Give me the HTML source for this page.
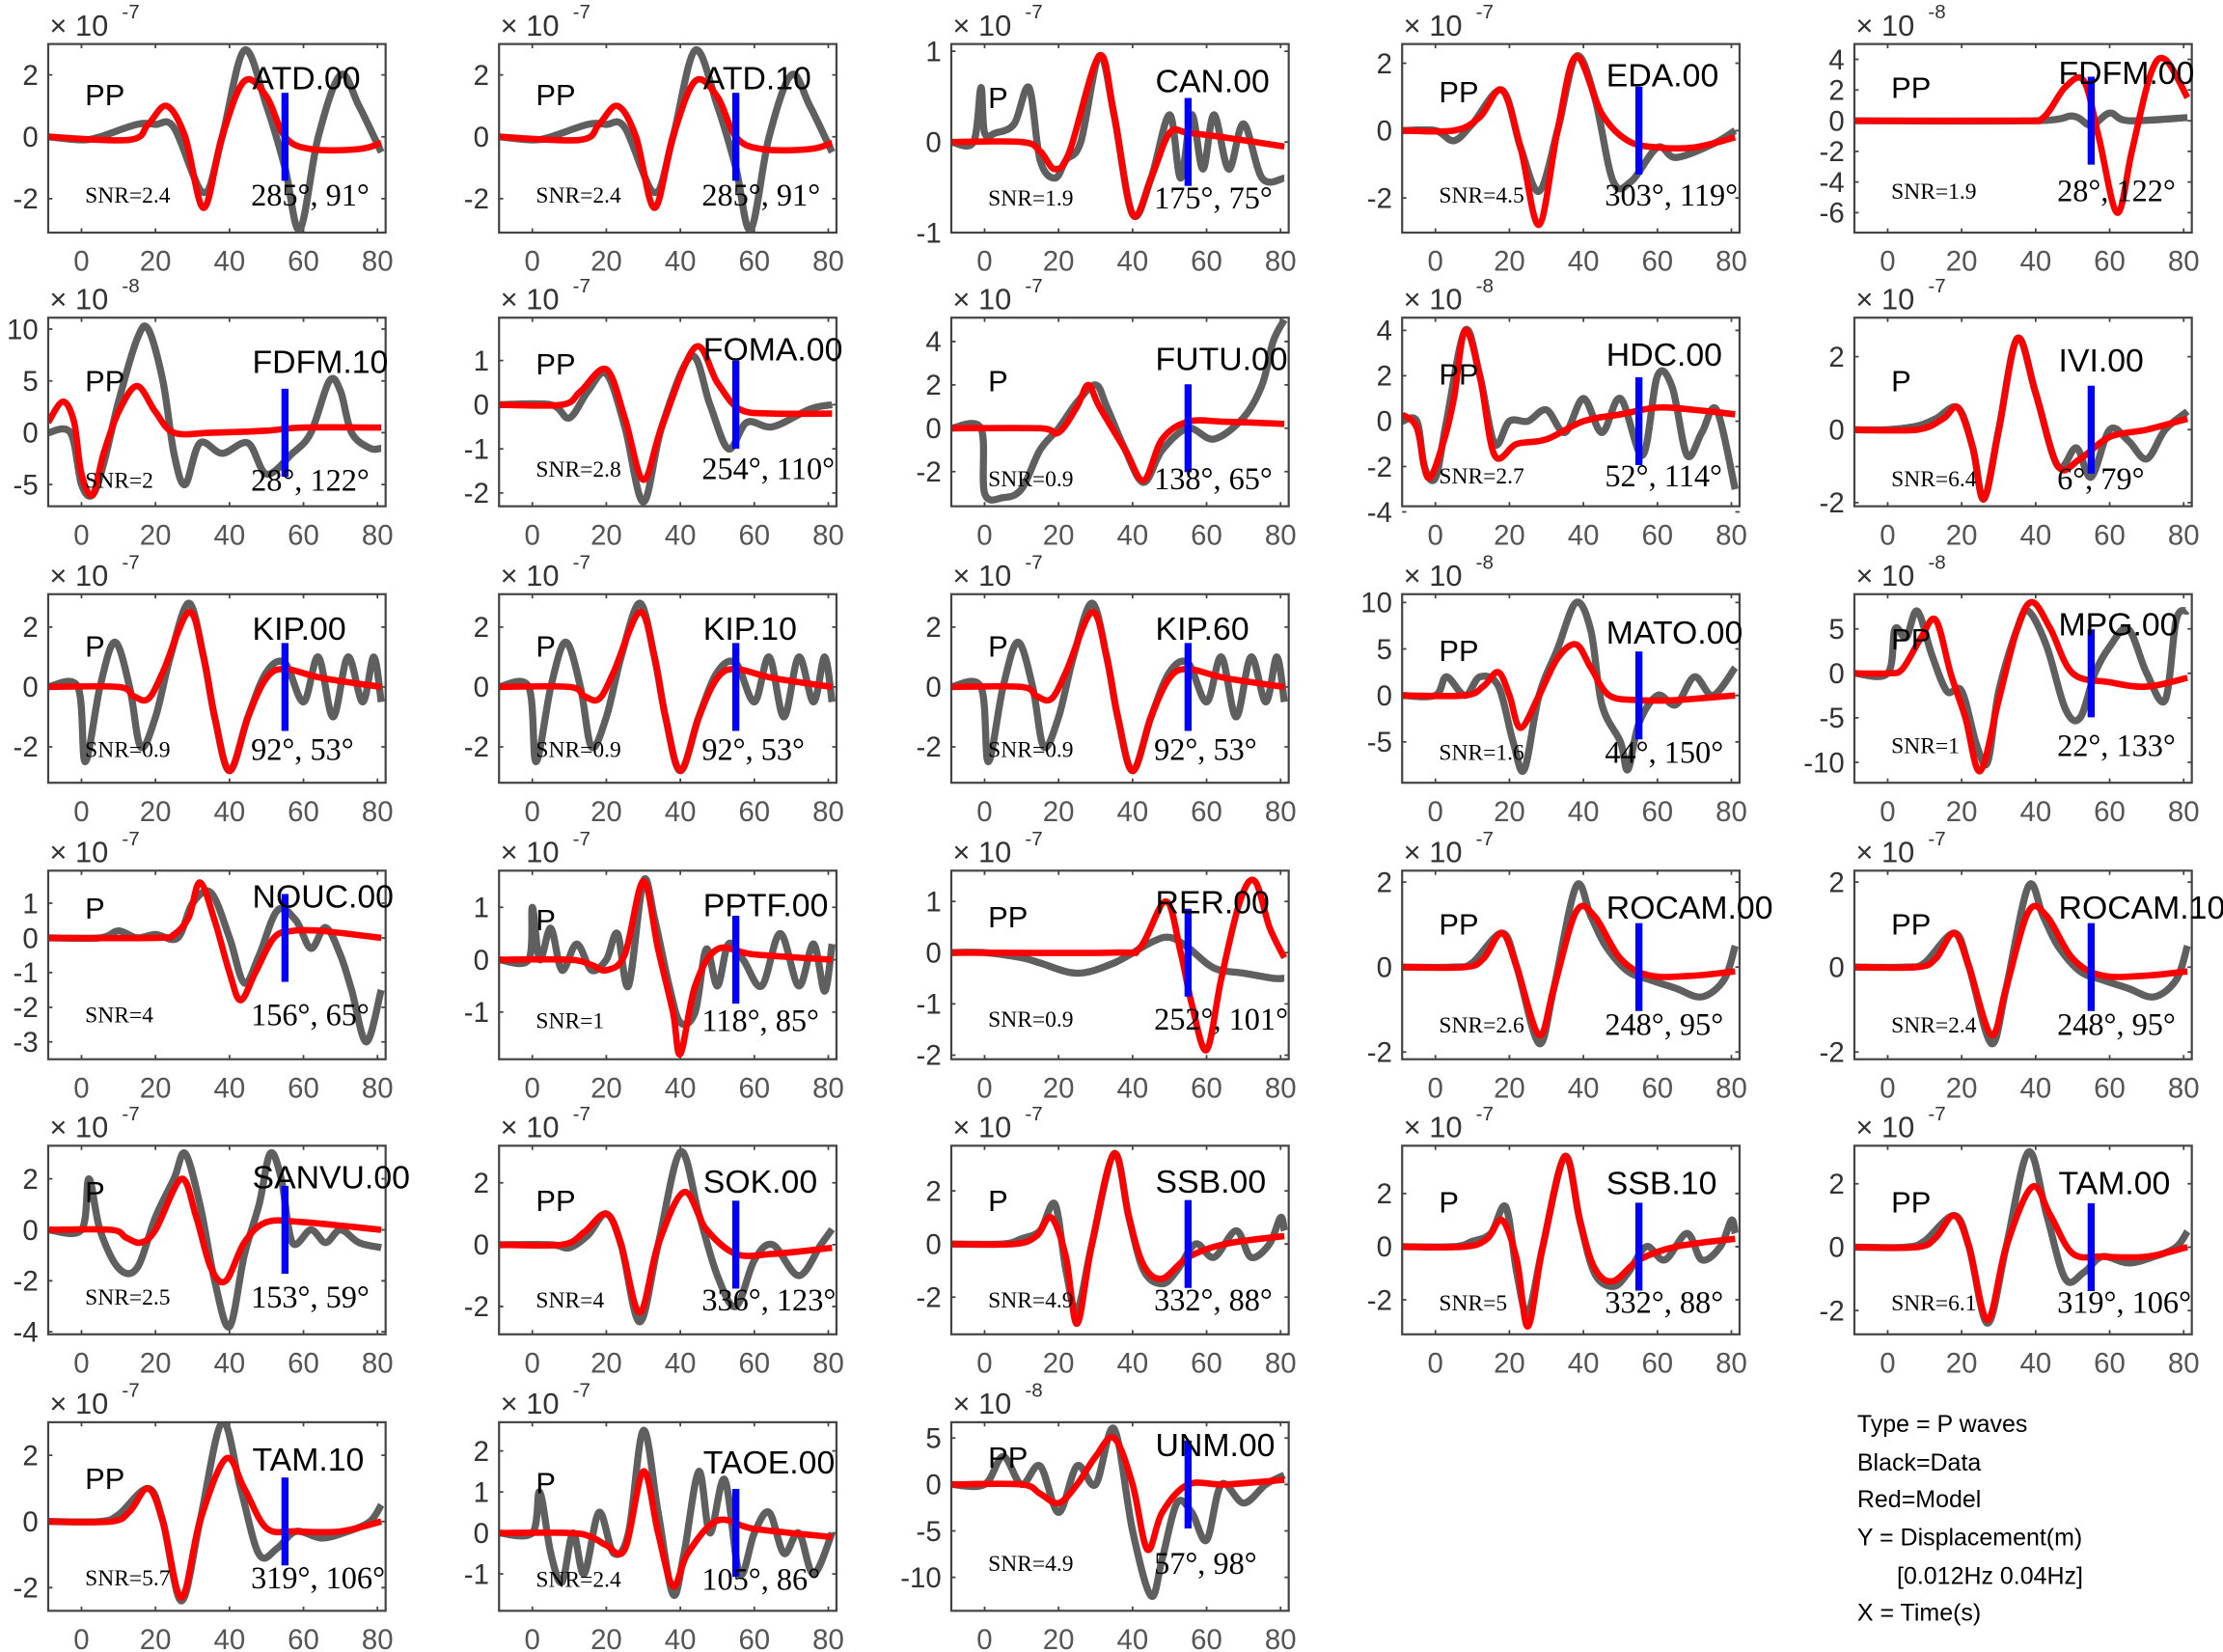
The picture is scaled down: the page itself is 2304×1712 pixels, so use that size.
<!DOCTYPE html>
<html><head><meta charset="utf-8">
<style>
html,body{margin:0;padding:0;background:#fff;}
svg{display:block;}
text{font-family:"Liberation Sans",sans-serif;}
.serif{font-family:"Liberation Serif",serif;}
</style></head>
<body>
<svg id="s" xmlns="http://www.w3.org/2000/svg" width="2304" height="1712" viewBox="0 0 1568 1165">
<rect width="1568" height="1165" fill="#fff"/>
<g font-size="17" fill="#000">
<text x="1310" y="1010">Type = P waves</text>
<text x="1310" y="1037">Black=Data</text>
<text x="1310" y="1063">Red=Model</text>
<text x="1310" y="1090">Y = Displacement(m)</text>
<text x="1338" y="1117">[0.012Hz 0.04Hz]</text>
<text x="1310" y="1143">X = Time(s)</text>
</g>
</svg>
<script>
var cols=[34,352,671,989,1308], rows=[31,224,419,614,808,1003], W=238, H=133;
var ATDg=[[-9,0],[0,-0.1],[5,0],[15,0.4],[20,0.4],[25,0.3],[33,-1.8],[38,0],[44,2.8],[50,1],[55,-1],[59,-3],[64,0],[70,2],[75,1],[81,-0.5]];
var ATDr=[[-9,0],[13,-0.1],[18,0.4],[23,1],[28,0],[33,-2.3],[38,0],[44,1.8],[50,1.3],[55,0],[62,-0.4],[75,-0.4],[81,-0.2]];
var KIPg=[[-9,0],[-1,0],[1,-2.5],[5,0],[9,1.5],[13,0],[16,-2],[20,-1],[24,1],[29,2.8],[33,1],[36,-1],[40,-2.8],[45,-1],[50,0.5],[55,0.8],[60,-0.5],[64,1],[68,-1],[72,1],[76,-0.5],[79,1],[81,-0.5]];
var KIPr=[[-9,0],[10,0],[14,-0.3],[18,-0.4],[22,0.5],[29,2.5],[33,1],[36,-1],[40,-2.8],[45,-1],[50,0.3],[55,0.6],[65,0.3],[81,0]];
var ROCg=[[-9,0],[5,0],[10,0.1],[18,0.8],[22,0],[28,-1.8],[32,-0.5],[38,1.9],[42,1.2],[46,0.5],[52,-0.1],[58,-0.3],[65,-0.5],[72,-0.7],[78,-0.3],[81,0.5]];
var ROCr=[[-9,0],[8,0],[13,0.2],[18,0.8],[22,0],[28,-1.6],[32,-0.5],[38,1.3],[43,1.2],[50,0.2],[58,-0.2],[70,-0.2],[81,-0.1]];
var SSBg=[[-9,0],[5,0],[10,0.2],[15,0.5],[19,1.5],[22,-1],[25,-2.5],[29,0],[35,3.4],[39,1],[43,-1],[48,-1.5],[52,-1],[57,0],[62,-0.5],[68,0.5],[72,-0.5],[77,0],[80,1],[81,0.5]];
var SSBr=[[-9,0],[8,0],[14,0.3],[18,1],[22,-0.5],[25,-3],[29,0],[35,3.4],[39,1],[43,-0.8],[48,-1.3],[55,-0.5],[65,0],[81,0.3]];
var TAMg=[[-9,0],[5,0],[10,0.2],[18,1],[22,0],[27,-2.4],[32,0],[38,3],[43,1],[48,-1],[53,-0.8],[58,-0.3],[65,-0.5],[72,-0.3],[78,0],[81,0.5]];
var TAMr=[[-9,0],[8,0],[13,0.3],[18,1],[22,0],[27,-2.3],[32,0],[39,1.9],[44,1],[50,-0.2],[58,-0.3],[70,-0.3],[81,0]];
var P=[
[0,0,[-3.1,3.0],[-2,0,2],-7,"PP",35,"ATD.00",24,"2.4","285°, 91°",106,ATDg,ATDr],
[1,0,[-3.1,3.0],[-2,0,2],-7,"PP",35,"ATD.10",24,"2.4","285°, 91°",106,ATDg,ATDr],
[2,0,[-1.0,1.08],[-1,0,1],-7,"P",37,"CAN.00",26,"1.9","175°, 75°",108,
 [[-9,0],[-3,0],[-1,0.6],[0,0.1],[3,0.1],[8,0.2],[12,0.6],[15,-0.2],[19,-0.4],[22,-0.2],[26,0],[31,0.95],[35,0.3],[40,-0.8],[45,-0.4],[50,0.3],[53,-0.4],[56,0.3],[59,-0.3],[62,0.3],[66,-0.3],[70,0.2],[75,-0.4],[81,-0.4]],
 [[-9,0],[10,0],[15,-0.1],[19,-0.3],[23,-0.1],[31,0.95],[35,0.3],[40,-0.8],[45,-0.4],[50,0.1],[55,0.1],[65,0.05],[81,-0.05]]],
[3,0,[-3.03,2.57],[-2,0,2],-7,"PP",33,"EDA.00",22,"4.5","303°, 119°",106,
 [[-9,0],[0,0],[5,-0.3],[10,0.2],[18,1.2],[23,-0.5],[28,-1.8],[33,0],[38,2.2],[43,1],[48,-1.5],[53,-1.5],[60,-0.5],[65,-0.8],[75,-0.4],[81,0]],
 [[-9,0],[5,0],[12,0.4],[18,1.2],[23,-0.5],[28,-2.8],[33,0],[38,2.2],[45,0.5],[52,-0.3],[60,-0.5],[70,-0.5],[81,-0.2]]],
[4,0,[-7.3,5.0],[-6,-4,-2,0,2,4],-8,"PP",30,"FDFM.00",20,"1.9","28°, 122°",103,
 [[-9,0],[40,0],[50,0.3],[55,-0.3],[60,0.5],[65,0],[81,0.2]],
 [[-9,0],[35,0],[42,0.2],[48,2.2],[53,2.6],[57,-1],[62,-6],[66,-2],[71,3],[75,4],[81,1.5]]],
[0,1,[-7.1,11.1],[-5,0,5,10],-8,"PP",44,"FDFM.10",31,"2","28°, 122°",114,
 [[-9,0],[-3,0],[0,-5],[3,-6],[6,-3],[10,3],[15,9],[18,10],[22,5],[25,-2],[28,-5],[32,-1],[38,-2],[45,-1],[50,-4],[57,-2],[62,0],[67,5],[70,4],[73,0],[78,-1.5],[81,-1.5]],
 [[-9,1],[-5,3],[-2,1],[0,-4],[3,-6],[6,-2],[10,2],[15,4.5],[20,2],[25,0],[35,0],[50,0.2],[60,0.5],[81,0.5]]],
[1,1,[-2.3,1.97],[-2,-1,0,1],-7,"PP",32,"FOMA.00",22,"2.8","254°, 110°",106,
 [[-9,0],[5,0],[10,-0.3],[15,0.3],[20,0.7],[25,-0.5],[30,-2.2],[35,-0.5],[43,1.1],[48,0],[53,-1.0],[58,-0.4],[65,-0.5],[75,-0.1],[81,0]],
 [[-9,0],[8,0],[13,0.3],[20,0.8],[25,-0.3],[30,-1.7],[35,-0.5],[44,1.3],[50,0.5],[56,-0.1],[65,-0.2],[81,-0.2]]],
[2,1,[-3.6,5.1],[-2,0,2,4],-7,"P",44,"FUTU.00",29,"0.9","138°, 65°",113,
 [[-9,0],[-1,0],[0,-3],[5,-3.2],[10,-2.8],[15,-1],[20,0],[25,1.2],[30,2],[33,1],[38,-1],[43,-2.5],[48,-1],[55,0],[62,-0.5],[70,0.5],[75,2],[78,4],[81,5]],
 [[-9,0],[15,0],[20,-0.2],[25,1],[28,2],[31,1],[38,-1],[43,-2.4],[48,-0.5],[55,0.3],[65,0.3],[81,0.2]]],
[3,1,[-3.75,4.56],[-4,-2,0,2,4],-8,"PP",39,"HDC.00",26,"2.7","52°, 114°",111,
 [[-9,0],[-5,0],[-3,-2],[0,-2.5],[3,0],[8,4],[12,2],[16,-1],[20,0],[25,0],[30,0.5],[35,-0.5],[40,1],[45,-0.5],[50,1],[56,-1.5],[60,2],[64,1.5],[68,-1.5],[72,-0.5],[76,0.5],[81,-3]],
 [[-9,0.3],[-5,-0.3],[-2,-2.5],[2,-1],[5,1],[8,4],[12,2],[16,-1.5],[22,-1],[30,-0.8],[40,0],[50,0.3],[60,0.6],[70,0.5],[81,0.3]]],
[4,1,[-2.1,3.07],[-2,0,2],-7,"P",44,"IVI.00",30,"6.4","6°, 79°",113,
 [[-9,0],[0,0],[8,0.1],[13,0.3],[19,0.6],[23,-0.5],[26,-1.9],[30,0],[35,2.5],[40,1],[46,-1],[51,-0.5],[55,-1.3],[60,0],[65,-0.3],[70,-0.8],[75,0],[81,0.5]],
 [[-9,0],[8,0],[15,0.3],[19,0.6],[23,-0.5],[26,-1.9],[30,0],[35,2.5],[40,1],[46,-1],[52,-0.8],[60,-0.2],[70,0],[81,0.3]]],
[0,2,[-3.2,3.1],[-2,0,2],-7,"P",36,"KIP.00",24,"0.9","92°, 53°",109,KIPg,KIPr],
[1,2,[-3.2,3.1],[-2,0,2],-7,"P",36,"KIP.10",24,"0.9","92°, 53°",109,KIPg,KIPr],
[2,2,[-3.2,3.1],[-2,0,2],-7,"P",36,"KIP.60",24,"0.9","92°, 53°",109,KIPg,KIPr],
[3,2,[-9.4,10.9],[-5,0,5,10],-8,"PP",39,"MATO.00",27,"1.6","44°, 150°",111,
 [[-9,0],[0,0],[3,2],[8,0],[12,2],[17,1],[21,-5],[24,-8],[28,0],[33,5],[38,10],[42,7],[45,-1],[50,-5],[52,-8],[55,-3],[60,0],[65,-1],[70,2],[75,0],[81,3]],
 [[-9,0],[8,0],[13,1],[17,2.5],[20,0],[23,-3.5],[28,0],[33,4],[38,5.5],[42,3],[47,0],[55,-0.5],[65,-0.5],[81,0]]],
[4,2,[-12.3,8.9],[-10,-5,0,5],-8,"PP",31,"MPG.00",21,"1","22°, 133°",106,
 [[-9,0],[0,0],[2,5],[5,4],[8,7],[12,2],[16,-2],[20,-2],[24,-8],[27,-10],[30,-2],[35,5],[38,7],[43,3],[48,-4],[52,-5],[56,0],[60,3],[65,5],[70,0],[75,-3],[78,6],[81,7]],
 [[-9,0],[0,0],[4,0.5],[9,4],[13,6],[17,0],[21,-5],[25,-11],[30,-3],[35,5],[39,8],[44,5],[50,0],[60,-1],[70,-1.5],[81,-0.5]]],
[0,3,[-3.5,1.94],[-3,-2,-1,0,1],-7,"P",26,"NOUC.00",18,"4","156°, 65°",101,
 [[-9,0],[5,0],[10,0.2],[15,0],[20,0.1],[26,0],[30,1],[35,1.3],[40,0],[44,-1.3],[48,-0.5],[53,0.8],[58,0.5],[62,-0.3],[66,0.3],[70,-0.5],[73,-1.5],[77,-3],[81,-1.5]],
 [[-9,0],[20,0],[25,0.1],[29,0.6],[32,1.6],[36,0.5],[40,-1],[43,-1.8],[47,-1],[52,0],[57,0.2],[65,0.2],[81,0]]],
[1,3,[-1.9,1.7],[-1,0,1],-7,"P",34,"PPTF.00",24,"1","118°, 85°",105,
 [[-9,0],[-1,0],[0,1],[2,0],[5,0.6],[8,-0.2],[12,0.3],[16,-0.2],[20,0],[23,0.5],[26,-0.5],[30,1.5],[33,0.8],[37,-0.5],[40,-1.2],[44,-1],[47,0.2],[50,-0.5],[53,0.3],[57,0],[62,-0.5],[67,0.5],[72,-0.5],[76,0.3],[79,-0.6],[81,0.3]],
 [[-9,0],[10,0],[16,-0.1],[20,-0.2],[25,0.1],[30,1.5],[34,0.2],[38,-1],[40,-1.8],[44,-0.5],[50,0.2],[60,0.1],[81,0]]],
[2,3,[-2.08,1.6],[-2,-1,0,1],-7,"PP",32,"RER.00",22,"0.9","252°, 101°",104,
 [[-9,0],[0,0],[10,-0.1],[15,-0.2],[25,-0.4],[35,-0.2],[45,0.2],[50,0.3],[55,0.1],[62,-0.3],[70,-0.4],[78,-0.5],[81,-0.5]],
 [[-9,0],[35,0],[42,0.1],[49,1],[53,0],[56,-1],[60,-1.9],[64,-0.5],[69,1],[73,1.4],[77,0.5],[81,-0.1]]],
[3,3,[-2.17,2.27],[-2,0,2],-7,"PP",37,"ROCAM.00",26,"2.6","248°, 95°",108,ROCg,ROCr],
[4,3,[-2.17,2.27],[-2,0,2],-7,"PP",37,"ROCAM.10",26,"2.4","248°, 95°",108,ROCg,ROCr],
[0,4,[-4.1,3.3],[-4,-2,0,2],-7,"P",32,"SANVU.00",22,"2.5","153°, 59°",106,
 [[-9,0],[0,0],[2,2],[5,0],[10,-1.5],[15,-1.5],[20,0.5],[25,2],[28,3],[32,1],[36,-2],[40,-3.8],[44,-1],[48,1],[51,3],[54,2],[57,-0.5],[62,0],[66,-0.5],[70,0],[75,-0.5],[81,-0.7]],
 [[-9,0],[8,0],[12,-0.3],[16,-0.5],[20,0],[27,2],[31,0.5],[35,-1.5],[39,-2],[44,-0.5],[50,0.3],[60,0.3],[81,0]]],
[1,4,[-2.9,3.2],[-2,0,2],-7,"PP",38,"SOK.00",25,"4","336°, 123°",108,
 [[-9,0],[5,0],[10,-0.1],[15,0.3],[20,1],[24,0],[29,-2.5],[34,0],[40,3],[45,1],[50,-1],[55,-2],[60,-0.5],[65,0],[72,-1],[78,0],[81,0.5]],
 [[-9,0],[8,0],[14,0.4],[20,1],[24,0],[29,-2.2],[34,0],[41,1.7],[47,0.5],[55,-0.3],[65,-0.3],[81,-0.1]]],
[2,4,[-3.4,3.7],[-2,0,2],-7,"P",38,"SSB.00",25,"4.9","332°, 88°",108,SSBg,SSBr],
[3,4,[-3.3,3.8],[-2,0,2],-7,"P",39,"SSB.10",26,"5","332°, 88°",110,SSBg,SSBr],
[4,4,[-2.75,3.2],[-2,0,2],-7,"PP",39,"TAM.00",26,"6.1","319°, 106°",110,TAMg,TAMr],
[0,5,[-2.7,3.0],[-2,0,2],-7,"PP",39,"TAM.10",26,"5.7","319°, 106°",109,TAMg,TAMr],
[1,5,[-1.9,2.7],[-1,0,1,2],-7,"P",42,"TAOE.00",28,"2.4","105°, 86°",110,
 [[-9,0],[0,0],[2,1],[5,-0.5],[8,-1.2],[11,0],[14,-1],[18,0.5],[22,-0.5],[26,0],[30,2.5],[34,0.5],[38,-1.5],[41,-0.5],[45,1.5],[48,0],[52,1.3],[56,-1],[60,0],[64,0.5],[68,-0.5],[72,0],[76,-1],[81,0]],
 [[-9,0],[10,0],[16,-0.1],[20,-0.3],[25,-0.4],[30,1.5],[34,0],[38,-1.3],[42,-0.5],[50,0.3],[60,0.1],[81,-0.1]]],
[2,5,[-13.6,6.7],[-10,-5,0,5],-8,"PP",24,"UNM.00",16,"4.9","57°, 98°",99,
 [[-9,0],[0,0],[5,3],[10,0],[15,2],[20,-3],[25,2],[30,0],[35,6],[40,-5],[45,-12],[48,-8],[52,-2],[56,-3],[60,-6],[64,0],[70,-2],[76,0],[81,1]],
 [[-9,0],[10,0],[15,-1],[20,-2],[25,0],[30,3],[35,5],[40,0],[44,-7],[48,-3],[55,0],[65,0],[81,0.5]]]
];
function path(pts,fx,fy){
  var p=pts.map(function(a){return [fx(a[0]),fy(a[1])];});
  var d="M"+p[0][0].toFixed(1)+","+p[0][1].toFixed(1);
  for(var i=0;i<p.length-1;i++){
    var p0=p[i-1]||p[i],p1=p[i],p2=p[i+1],p3=p[i+2]||p2;
    var c1=[p1[0]+(p2[0]-p0[0])/6,p1[1]+(p2[1]-p0[1])/6];
    var c2=[p2[0]-(p3[0]-p1[0])/6,p2[1]-(p3[1]-p1[1])/6];
    d+="C"+c1[0].toFixed(1)+","+c1[1].toFixed(1)+" "+c2[0].toFixed(1)+","+c2[1].toFixed(1)+" "+p2[0].toFixed(1)+","+p2[1].toFixed(1);
  }
  return d;
}
var out="";
P.forEach(function(q,k){
  var L=cols[q[0]],T=rows[q[1]],y0=q[2][0],y1=q[2][1];
  var fx=function(t){return L+(t+9)*W/91.2;};
  var fy=function(v){return T+H-(v-y0)/(y1-y0)*H;};
  var id="c"+k;
  out+='<clipPath id="'+id+'"><rect x="'+L+'" y="'+T+'" width="'+W+'" height="'+H+'"/></clipPath>';
  var tk="";
  [0,20,40,60,80].forEach(function(t){var x=fx(t);tk+="M"+x+","+(T+H)+"v-3M"+x+","+T+"v3";
    out+='<text x="'+x+'" y="'+(T+H+27)+'" font-size="20" fill="#555" text-anchor="middle">'+t+'</text>';});
  q[3].forEach(function(v){var y=fy(v);tk+="M"+L+","+y+"h3M"+(L+W)+","+y+"h-3";
    out+='<text x="'+(L-7)+'" y="'+(y+7)+'" font-size="20" fill="#333" text-anchor="end">'+v+'</text>';});
  out+='<path d="'+tk+'" stroke="#444" stroke-width="1.2" fill="none"/>';
  out+='<g clip-path="url(#'+id+')">';
  out+='<path d="'+path(q[12],fx,fy)+'" stroke="#5f5f5f" stroke-width="5" fill="none" stroke-linejoin="round"/>';
  out+='<path d="'+path(q[13],fx,fy)+'" stroke="#ff0000" stroke-width="4.5" fill="none" stroke-linejoin="round"/>';
  out+='</g>';
  var bz=fy(0);
  out+='<rect x="'+(fx(55)-2.5)+'" y="'+(bz-31)+'" width="5" height="62" fill="#0000ff"/>';
  out+='<rect x="'+L+'" y="'+T+'" width="'+W+'" height="'+H+'" fill="none" stroke="#444" stroke-width="1.5"/>';
  out+='<text x="'+(L+1)+'" y="'+(T-6)+'" font-size="21" fill="#333">× 10</text>';
  out+='<text x="'+(L+52)+'" y="'+(T-18)+'" font-size="14" fill="#333">'+q[4]+'</text>';
  out+='<text x="'+(L+26)+'" y="'+(T+q[6]+8)+'" font-size="21" fill="#000">'+q[5]+'</text>';
  out+='<text x="'+(L+144)+'" y="'+(T+q[8]+8)+'" font-size="23" fill="#000">'+q[7]+'</text>';
  out+='<text class="serif" x="'+(L+26)+'" y="'+(T+q[11]+6)+'" font-size="16" fill="#000">SNR='+q[9]+'</text>';
  out+='<text class="serif" x="'+(L+143)+'" y="'+(T+q[11]+8)+'" font-size="22" fill="#000">'+q[10]+'</text>';
});
document.getElementById("s").insertAdjacentHTML("beforeend",out);
</script>
</body></html>
